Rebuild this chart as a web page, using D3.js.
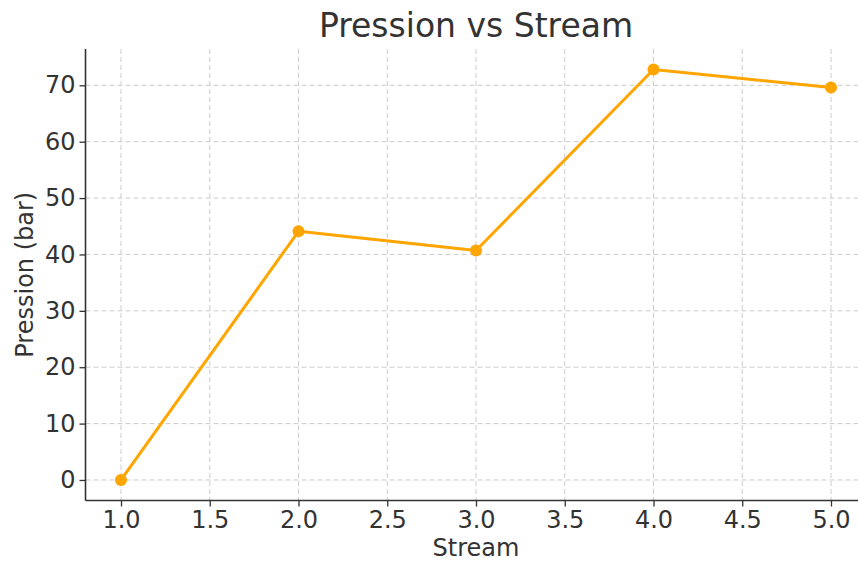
<!DOCTYPE html>
<html><head><meta charset="utf-8">
<script src="https://cdn.jsdelivr.net/npm/d3@7"></script>
<style>body{margin:0;background:#fff;overflow:hidden}svg{display:block}</style>
</head><body>
<svg id="c" width="858" height="562"></svg>
<script>
const streams = [1, 2, 3, 4, 5];
const pression = [0, 44.1, 40.7, 72.8, 69.6];
const xTicks = [1.0, 1.5, 2.0, 2.5, 3.0, 3.5, 4.0, 4.5, 5.0];
const yTicks = [0, 10, 20, 30, 40, 50, 60, 70];
const title = "Pression vs Stream";
const xLabel = "Stream";
const yLabel = "Pression (bar)";

const svg = d3.select("#c");
const m = {left: 85.5, right: 866.5, top: 49, bottom: 500.5};
const font = "DejaVu Sans, sans-serif";
const txt = "#333333";
const fs = "24px";

const x = d3.scaleLinear().domain([0.8, 5.2]).range([m.left, m.right]);
const ymin = d3.min(pression), ymax = d3.max(pression), pad = (ymax - ymin) * 0.05;
const y = d3.scaleLinear().domain([ymin - pad, ymax + pad]).range([m.bottom, m.top]);

// grid
const g = svg.append("g");
g.selectAll(".gx").data(xTicks).join("line")
  .attr("x1", d => x(d)).attr("x2", d => x(d)).attr("y1", m.top).attr("y2", m.bottom)
  .attr("stroke", "#cccccc").attr("stroke-width", 1).attr("stroke-dasharray", "5,3");
g.selectAll(".gy").data(yTicks).join("line")
  .attr("x1", m.left).attr("x2", m.right).attr("y1", d => y(d)).attr("y2", d => y(d))
  .attr("stroke", "#cccccc").attr("stroke-width", 1).attr("stroke-dasharray", "5,3");

// axes
const xAxis = svg.append("g").attr("transform", `translate(0,${m.bottom})`)
  .call(d3.axisBottom(x).tickValues(xTicks).tickFormat(d3.format(".1f")).tickSize(6).tickPadding(4));
const yAxis = svg.append("g").attr("transform", `translate(${m.left},0)`)
  .call(d3.axisLeft(y).tickValues(yTicks).tickFormat(d3.format("d")).tickSize(6).tickPadding(4));
[xAxis, yAxis].forEach(a => {
  a.select(".domain").remove();
  a.selectAll(".tick line").attr("stroke", txt).attr("stroke-width", 1.3);
  a.selectAll(".tick text").attr("fill", txt).style("font-family", font).style("font-size", fs);
});
svg.append("line").attr("x1", m.left).attr("x2", m.left).attr("y1", m.top).attr("y2", m.bottom)
  .attr("stroke", txt).attr("stroke-width", 1.6);
svg.append("line").attr("x1", m.left).attr("x2", m.right).attr("y1", m.bottom).attr("y2", m.bottom)
  .attr("stroke", txt).attr("stroke-width", 1.6);

// line
const line = d3.line().x((d, i) => x(streams[i])).y(d => y(d));
svg.append("path").datum(pression).attr("d", line)
  .attr("fill", "none").attr("stroke", "#FFA500").attr("stroke-width", 3).attr("stroke-linejoin", "round");
svg.selectAll(".pt").data(pression).join("circle")
  .attr("cx", (d, i) => x(streams[i])).attr("cy", d => y(d)).attr("r", 6).attr("fill", "#FFA500");

// labels
svg.append("text").attr("x", (m.left + m.right) / 2).attr("y", 37).attr("text-anchor", "middle")
  .attr("fill", txt).style("font-family", font).style("font-size", "33px").text(title);
svg.append("text").attr("x", (m.left + m.right) / 2).attr("y", 556).attr("text-anchor", "middle")
  .attr("fill", txt).style("font-family", font).style("font-size", fs).text(xLabel);
svg.append("text").attr("transform", `translate(33,${(m.top + m.bottom) / 2}) rotate(-90)`)
  .attr("text-anchor", "middle").attr("fill", txt).style("font-family", font).style("font-size", fs).text(yLabel);
</script>
</body></html>
